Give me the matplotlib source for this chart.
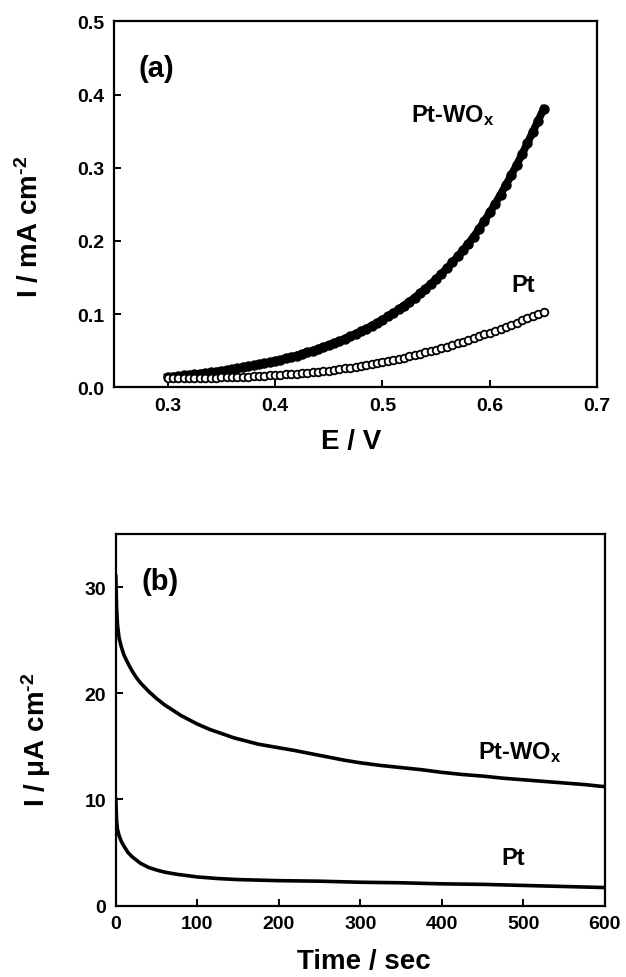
import matplotlib
matplotlib.use("Agg")
import matplotlib.pyplot as plt

plt.rcParams["font.family"] = ["Liberation Sans", "DejaVu Sans"]
plt.rcParams["font.weight"] = "bold"
plt.rcParams["mathtext.fontset"] = "custom"
plt.rcParams["mathtext.rm"] = "Liberation Sans:bold"
plt.rcParams["mathtext.it"] = "Liberation Sans:bold"
plt.rcParams["mathtext.bf"] = "Liberation Sans:bold"

# (a) potential sweep, E in V, I in mA cm-2
E = [0.300, 0.305, 0.310, 0.315, 0.320, 0.325, 0.330, 0.335, 0.340, 0.345,
     0.350, 0.355, 0.360, 0.365, 0.370, 0.375, 0.380, 0.385, 0.390, 0.395,
     0.400, 0.405, 0.410, 0.415, 0.420, 0.425, 0.430, 0.435, 0.440, 0.445,
     0.450, 0.455, 0.460, 0.465, 0.470, 0.475, 0.480, 0.485, 0.490, 0.495,
     0.500, 0.505, 0.510, 0.515, 0.520, 0.525, 0.530, 0.535, 0.540, 0.545,
     0.550, 0.555, 0.560, 0.565, 0.570, 0.575, 0.580, 0.585, 0.590, 0.595,
     0.600, 0.605, 0.610, 0.615, 0.620, 0.625, 0.630, 0.635, 0.640, 0.645,
     0.650]
i_ptwox = [0.0140, 0.0147, 0.0154, 0.0161, 0.0169, 0.0177, 0.0186, 0.0195, 0.0204, 0.0214,
           0.0224, 0.0235, 0.0247, 0.0259, 0.0271, 0.0284, 0.0298, 0.0312, 0.0327, 0.0343,
           0.0360, 0.0377, 0.0395, 0.0414, 0.0434, 0.0455, 0.0477, 0.0500, 0.0524, 0.0550,
           0.0576, 0.0604, 0.0633, 0.0664, 0.0696, 0.0730, 0.0765, 0.0802, 0.0841, 0.0881,
           0.0924, 0.0969, 0.1015, 0.1064, 0.1116, 0.1170, 0.1226, 0.1285, 0.1347, 0.1412,
           0.1481, 0.1552, 0.1627, 0.1706, 0.1788, 0.1874, 0.1965, 0.2060, 0.2165, 0.2275,
           0.2390, 0.2510, 0.2635, 0.2765, 0.2900, 0.3040, 0.3185, 0.3335, 0.3490, 0.3645,
           0.3800]
i_pt = [0.0120, 0.0121, 0.0122, 0.0123, 0.0124, 0.0125, 0.0127, 0.0128, 0.0130, 0.0132,
        0.0134, 0.0136, 0.0138, 0.0141, 0.0144, 0.0147, 0.0150, 0.0154, 0.0158, 0.0162,
        0.0166, 0.0171, 0.0176, 0.0181, 0.0187, 0.0193, 0.0199, 0.0206, 0.0213, 0.0221,
        0.0229, 0.0238, 0.0247, 0.0257, 0.0267, 0.0278, 0.0290, 0.0302, 0.0315, 0.0328,
        0.0342, 0.0357, 0.0372, 0.0388, 0.0404, 0.0421, 0.0439, 0.0457, 0.0476, 0.0495,
        0.0515, 0.0536, 0.0557, 0.0579, 0.0601, 0.0624, 0.0648, 0.0672, 0.0697, 0.0722,
        0.0748, 0.0774, 0.0801, 0.0828, 0.0856, 0.0884, 0.0913, 0.0942, 0.0972, 0.1002,
        0.1032]

# (b) chronoamperometry, t in s, I in uA cm-2
t_ptwox = [0, 1, 2, 4, 7, 10, 15, 20, 25, 30, 40, 50, 60, 70, 80, 90, 100, 115,
           130, 145, 160, 175, 190, 205, 220, 240, 260, 280, 300, 325, 350, 375,
           400, 425, 450, 475, 500, 525, 550, 575, 600]
b_ptwox = [31.0, 28.0, 26.5, 25.2, 24.3, 23.6, 22.8, 22.1, 21.5, 21.0, 20.2, 19.5,
           18.9, 18.4, 17.9, 17.5, 17.1, 16.6, 16.2, 15.8, 15.5, 15.2, 15.0, 14.8,
           14.6, 14.3, 14.0, 13.7, 13.45, 13.2, 13.0, 12.8, 12.55, 12.35, 12.2, 12.0,
           11.85, 11.7, 11.55, 11.4, 11.2]
t_pt = [0, 1, 2, 4, 7, 10, 15, 20, 25, 30, 40, 50, 60, 75, 90, 100, 125, 150, 175,
        200, 250, 300, 350, 400, 450, 500, 550, 600]
b_pt = [10.0, 8.0, 7.2, 6.6, 6.0, 5.6, 5.0, 4.6, 4.3, 4.0, 3.6, 3.35, 3.15, 2.95,
        2.8, 2.7, 2.55, 2.45, 2.4, 2.35, 2.3, 2.2, 2.15, 2.05, 2.0, 1.9, 1.8, 1.7]

fig = plt.figure(figsize=(6.26, 9.78), dpi=100)
ax1 = fig.add_axes([0.182, 0.603, 0.772, 0.374])
ax2 = fig.add_axes([0.185, 0.073, 0.781, 0.380])

# panel a
ax1.plot(E, i_ptwox, "-o", color="k", lw=5.5, ms=6.5, mfc="k", mec="k")
ax1.plot(E, i_pt, "o", ms=5.5, mfc="white", mec="k", mew=1.3)
ax1.set_xlim(0.25, 0.7)
ax1.set_ylim(0, 0.5)
ax1.set_xticks([0.3, 0.4, 0.5, 0.6, 0.7])
ax1.set_yticks([0.0, 0.1, 0.2, 0.3, 0.4, 0.5])
ax1.set_xticklabels(["0.3", "0.4", "0.5", "0.6", "0.7"])
ax1.set_yticklabels(["0.0", "0.1", "0.2", "0.3", "0.4", "0.5"])
ax1.set_xlabel("E / V", fontsize=20, fontweight="bold")
ax1.set_ylabel(r"I / mA cm$^{\text{-2}}$", fontsize=20, fontweight="bold")
ax1.xaxis.set_label_coords(0.49, -0.11)
ax1.yaxis.set_label_coords(-0.145, 0.44)
ax1.text(0.273, 0.436, "(a)", fontsize=21, fontweight="bold", va="center")
ax1.text(0.527, 0.364, r"Pt-WO$_x$", fontsize=17, fontweight="bold")
ax1.text(0.620, 0.131, "Pt", fontsize=17, fontweight="bold")

# panel b
ax2.plot(t_ptwox, b_ptwox, color="k", lw=2.6)
ax2.plot(t_pt, b_pt, color="k", lw=2.6)
ax2.set_xlim(0, 600)
ax2.set_ylim(0, 35)
ax2.set_xticks([0, 100, 200, 300, 400, 500, 600])
ax2.set_yticks([0, 10, 20, 30])
ax2.set_xlabel("Time / sec", fontsize=20, fontweight="bold")
ax2.set_ylabel(r"I / μA cm$^{\text{-2}}$", fontsize=20, fontweight="bold")
ax2.xaxis.set_label_coords(0.507, -0.115)
ax2.yaxis.set_label_coords(-0.128, 0.45)
ax2.text(31, 30.6, "(b)", fontsize=21, fontweight="bold", va="center")
ax2.text(445, 13.9, r"Pt-WO$_x$", fontsize=17, fontweight="bold")
ax2.text(473, 3.9, "Pt", fontsize=17, fontweight="bold")

for ax in (ax1, ax2):
    for s in ax.spines.values():
        s.set_linewidth(1.6)
    ax.tick_params(direction="in", length=5, width=1.4, labelsize=14, pad=7)
    for lbl in ax.get_xticklabels() + ax.get_yticklabels():
        lbl.set_fontweight("bold")

fig.savefig("out.png", dpi=100)
